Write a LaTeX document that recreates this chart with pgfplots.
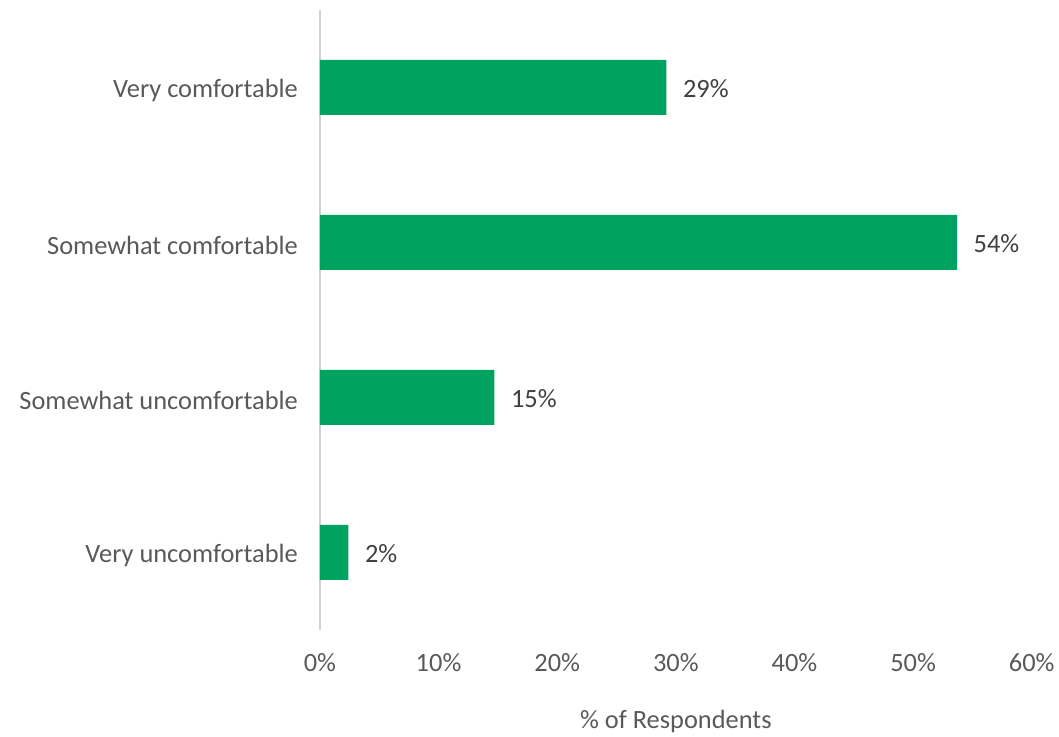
\documentclass[border=0pt]{standalone}
\usepackage{pgfplots}
\pgfplotsset{compat=1.18}
\usepackage{fontspec}
\setmainfont{Carlito}
\definecolor{bargreen}{HTML}{00A25F}
\definecolor{txtgray}{HTML}{595959}
\definecolor{lblgray}{HTML}{404040}
\begin{document}
\begin{tikzpicture}
\begin{axis}[
  scale only axis,
  width=534pt, height=465pt,
  xbar, bar width=0.355,
  xmin=0, xmax=60,
  ymin=-0.5, ymax=3.5,
  axis y line=left, axis x line=bottom,
  x axis line style={draw=none},
  y axis line style={draw=black!18, -, line width=0.9pt},
  major tick length=0pt,
  xtick={0,10,...,60},
  xticklabel={\pgfmathprintnumber{\tick}\%},
  ytick={0,1,2,3},
  yticklabels={Very uncomfortable, Somewhat uncomfortable, Somewhat comfortable, Very comfortable},
  /pgf/number format/assume math mode=true,
  tick label style={font=\fontsize{19.8}{23}\selectfont, text=txtgray},
  xticklabel style={yshift=-14pt},
  yticklabel style={xshift=-13pt, yshift=-2pt},
  xlabel={\% of Respondents},
  xlabel style={font=\fontsize{19.8}{23}\selectfont, text=txtgray, yshift=-22pt},
  nodes near coords={\pgfmathprintnumber[fixed,precision=0]{\pgfplotspointmeta}\%},
  nodes near coords style={font=\fontsize{19.8}{23}\selectfont, text=lblgray, anchor=west, xshift=9pt, yshift=-1pt},
  point meta=explicit,
  clip=false,
]
\addplot[fill=bargreen, draw=none] table[x=v, y=c, meta=v] {
c v
3 29.2
2 53.7
1 14.7
0 2.4
};
\coordinate (sw) at (rel axis cs:0,0);
\end{axis}
\path[use as bounding box] (sw) ++(-240pt,-78pt) rectangle ++(794.25pt,550.5pt);
\end{tikzpicture}
\end{document}
